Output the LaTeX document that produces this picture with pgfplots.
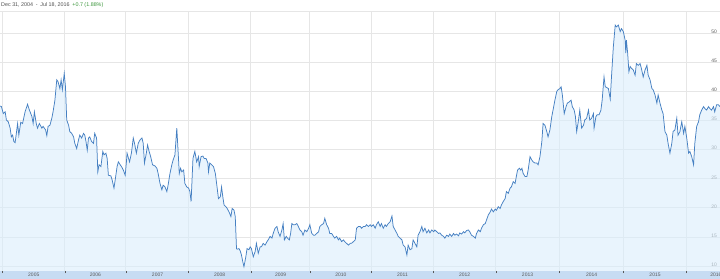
\documentclass[border=0pt]{standalone}
\usepackage{fontspec}
\setmainfont{Liberation Sans}
\usepackage{pgfplots}
\usepackage{pgfplotstable}
\pgfplotsset{compat=1.18}
\definecolor{lineblue}{RGB}{70,128,194}
\definecolor{fillblue}{RGB}{218,237,252}
\definecolor{gridgray}{RGB}{230,230,230}
\definecolor{bandblue}{RGB}{199,220,243}
\definecolor{hdrgray}{RGB}{80,80,80}
\definecolor{hdrgreen}{RGB}{60,150,60}
\definecolor{lblgray}{RGB}{90,90,90}

\pgfplotstableread{
x y
2004.96 37.5
2004.98 37.4
2005.01 36.2
2005.04 36.5
2005.06 35.1
2005.09 34.8
2005.12 33.7
2005.14 32.2
2005.16 32.5
2005.18 31.4
2005.20 31.2
2005.22 32.8
2005.24 34.5
2005.26 32.5
2005.29 34.7
2005.32 34.5
2005.36 36.5
2005.40 37.8
2005.43 36.8
2005.47 35.7
2005.49 34.5
2005.51 36.5
2005.54 34.5
2005.56 33.7
2005.59 34.5
2005.63 33.7
2005.65 34.0
2005.69 33.4
2005.71 32.4
2005.73 34.0
2005.76 34.2
2005.79 35.4
2005.81 36.5
2005.84 38.5
2005.87 42.0
2005.89 41.7
2005.92 40.5
2005.94 42.0
2005.96 40.3
2005.99 43.1
2006.01 40.8
2006.03 35.1
2006.06 34.2
2006.08 33.1
2006.11 32.8
2006.14 32.2
2006.16 31.1
2006.19 30.2
2006.22 31.7
2006.24 32.5
2006.27 32.0
2006.30 32.8
2006.32 32.5
2006.34 31.4
2006.36 29.9
2006.38 32.0
2006.40 32.2
2006.43 31.4
2006.46 31.1
2006.48 32.8
2006.51 32.0
2006.53 26.2
2006.55 27.4
2006.58 27.1
2006.61 29.7
2006.63 29.1
2006.66 29.4
2006.68 28.5
2006.70 25.6
2006.74 25.5
2006.76 24.8
2006.79 23.4
2006.82 25.6
2006.84 27.1
2006.86 27.9
2006.89 27.4
2006.91 27.1
2006.94 26.5
2006.97 25.6
2006.99 27.9
2007.00 29.4
2007.04 27.9
2007.07 29.4
2007.10 32.0
2007.12 31.1
2007.15 29.4
2007.18 31.1
2007.21 31.7
2007.24 32.0
2007.26 31.1
2007.28 27.7
2007.31 29.4
2007.33 30.8
2007.35 29.9
2007.38 28.8
2007.41 27.4
2007.45 27.2
2007.48 26.8
2007.50 25.9
2007.53 24.2
2007.56 23.1
2007.58 23.9
2007.61 23.6
2007.64 22.8
2007.66 23.9
2007.69 25.9
2007.72 27.4
2007.74 28.2
2007.77 29.1
2007.80 33.7
2007.82 29.9
2007.84 25.9
2007.86 26.8
2007.88 26.2
2007.91 26.5
2007.93 24.2
2007.96 23.6
2007.99 23.4
2008.01 22.8
2008.03 21.1
2008.06 28.5
2008.09 29.7
2008.12 27.9
2008.15 28.8
2008.16 27.1
2008.19 28.8
2008.22 28.9
2008.24 28.5
2008.27 28.5
2008.30 27.7
2008.31 26.2
2008.33 27.7
2008.36 27.4
2008.39 27.1
2008.42 25.9
2008.44 24.2
2008.47 21.6
2008.50 21.9
2008.52 23.6
2008.54 21.9
2008.56 20.5
2008.59 20.2
2008.61 19.9
2008.64 19.3
2008.67 18.5
2008.69 19.9
2008.72 19.6
2008.74 18.5
2008.76 13.0
2008.77 12.9
2008.80 13.0
2008.82 12.6
2008.84 11.9
2008.86 10.8
2008.88 9.9
2008.91 11.6
2008.93 13.0
2008.96 12.8
2008.98 13.3
2009.00 13.0
2009.03 11.6
2009.06 12.5
2009.08 13.9
2009.11 12.2
2009.14 13.3
2009.16 13.3
2009.19 13.9
2009.22 13.6
2009.25 14.2
2009.27 14.5
2009.30 15.1
2009.33 14.8
2009.35 15.6
2009.38 16.5
2009.41 16.8
2009.43 15.9
2009.46 15.1
2009.49 16.2
2009.51 17.3
2009.53 14.5
2009.56 15.1
2009.58 14.8
2009.61 14.5
2009.63 15.6
2009.65 17.3
2009.67 17.1
2009.70 17.1
2009.73 17.3
2009.75 16.9
2009.78 16.2
2009.81 15.9
2009.83 15.3
2009.86 16.2
2009.89 15.9
2009.92 16.5
2009.94 17.1
2009.97 15.6
2010.00 15.3
2010.02 15.3
2010.05 15.6
2010.08 15.9
2010.10 16.8
2010.13 17.1
2010.16 17.3
2010.18 18.2
2010.21 17.1
2010.24 16.5
2010.26 15.6
2010.29 15.6
2010.32 15.1
2010.34 14.8
2010.37 15.1
2010.40 14.5
2010.42 14.8
2010.45 14.2
2010.48 14.5
2010.50 14.2
2010.53 13.9
2010.56 13.6
2010.59 13.9
2010.61 13.9
2010.64 14.2
2010.67 14.5
2010.69 16.5
2010.72 16.8
2010.75 16.8
2010.77 16.5
2010.80 16.8
2010.83 16.8
2010.85 17.1
2010.88 16.8
2010.91 17.1
2010.93 16.8
2010.96 17.1
2010.99 16.5
2011.01 17.1
2011.04 17.6
2011.07 16.8
2011.09 17.3
2011.12 16.5
2011.15 17.1
2011.17 16.8
2011.20 17.3
2011.23 17.6
2011.26 18.6
2011.28 16.8
2011.31 16.2
2011.34 15.6
2011.36 15.1
2011.39 14.8
2011.42 14.5
2011.44 13.6
2011.47 13.3
2011.50 11.9
2011.52 13.6
2011.55 12.8
2011.58 13.0
2011.60 14.5
2011.63 13.9
2011.66 13.3
2011.68 15.3
2011.71 15.9
2011.74 16.8
2011.76 15.9
2011.79 16.5
2011.82 15.7
2011.85 16.2
2011.87 15.7
2011.90 16.2
2011.93 15.9
2011.95 16.2
2011.98 15.9
2012.01 15.6
2012.03 15.7
2012.06 15.3
2012.09 15.1
2012.11 14.8
2012.14 15.3
2012.17 15.1
2012.19 15.5
2012.22 15.1
2012.25 15.6
2012.27 15.3
2012.30 15.5
2012.33 15.2
2012.35 15.7
2012.38 15.5
2012.41 15.9
2012.43 15.7
2012.46 16.1
2012.49 16.2
2012.51 15.9
2012.54 15.3
2012.57 15.1
2012.60 14.8
2012.62 15.6
2012.65 16.2
2012.68 15.9
2012.70 16.5
2012.73 17.1
2012.76 17.3
2012.78 17.9
2012.81 18.8
2012.84 19.3
2012.86 19.8
2012.89 19.3
2012.92 19.8
2012.94 19.6
2012.97 20.2
2013.00 19.9
2013.02 20.5
2013.05 21.1
2013.08 21.6
2013.10 22.8
2013.13 22.5
2013.16 23.4
2013.18 23.6
2013.21 24.5
2013.24 24.2
2013.26 25.4
2013.28 26.5
2013.31 26.8
2013.33 26.5
2013.35 26.8
2013.37 25.9
2013.40 25.4
2013.43 25.4
2013.45 26.5
2013.48 28.8
2013.51 28.2
2013.53 27.9
2013.56 27.7
2013.59 27.7
2013.61 27.4
2013.64 28.8
2013.67 31.4
2013.69 34.5
2013.72 34.2
2013.75 33.1
2013.77 32.2
2013.80 33.4
2013.83 35.7
2013.85 36.8
2013.88 38.5
2013.91 40.0
2013.93 40.3
2013.96 40.5
2013.98 40.8
2014.00 39.4
2014.03 36.2
2014.06 37.4
2014.08 38.0
2014.11 38.2
2014.14 38.5
2014.16 37.4
2014.19 36.8
2014.21 35.7
2014.23 33.1
2014.26 35.1
2014.28 36.8
2014.31 33.7
2014.34 34.2
2014.36 35.1
2014.39 35.4
2014.42 36.8
2014.44 35.1
2014.47 35.4
2014.50 36.2
2014.51 33.7
2014.54 35.7
2014.56 36.0
2014.59 36.0
2014.62 36.8
2014.64 38.5
2014.67 42.5
2014.69 40.8
2014.71 40.7
2014.74 40.5
2014.77 38.7
2014.79 42.5
2014.82 47.7
2014.85 51.4
2014.87 51.1
2014.90 51.4
2014.93 50.3
2014.95 50.8
2014.98 50.3
2015.01 48.8
2015.02 46.6
2015.03 48.8
2015.05 46.6
2015.07 43.4
2015.09 44.3
2015.11 44.0
2015.14 43.7
2015.17 42.8
2015.19 44.8
2015.22 44.5
2015.25 44.8
2015.27 44.0
2015.30 42.5
2015.33 43.7
2015.36 44.5
2015.38 42.8
2015.41 42.0
2015.44 40.5
2015.46 40.3
2015.49 39.4
2015.52 38.0
2015.54 39.4
2015.57 38.0
2015.60 36.8
2015.62 36.2
2015.65 33.1
2015.68 32.5
2015.70 31.1
2015.73 29.4
2015.76 31.1
2015.78 33.1
2015.81 33.4
2015.84 35.4
2015.86 32.5
2015.89 33.1
2015.92 34.8
2015.95 32.8
2015.97 34.0
2016.00 32.0
2016.03 29.4
2016.05 29.7
2016.08 28.8
2016.11 27.4
2016.13 31.1
2016.16 34.0
2016.19 34.8
2016.21 36.0
2016.24 36.8
2016.27 37.4
2016.29 37.1
2016.32 36.8
2016.35 37.4
2016.37 37.1
2016.40 36.8
2016.43 37.4
2016.45 36.5
2016.48 37.7
2016.51 37.7
2016.535 37.4
}\pricedata

\begin{document}
\begin{tikzpicture}
\path[use as bounding box] (0,0) rectangle (720bp,279bp);
\fill[bandblue] (0,0) rectangle (720bp,8bp);
\draw[gridgray, line width=0.8bp] (0,268bp) -- (720bp,268bp);
\node[anchor=west, inner sep=0pt, font=\fontsize{5.4}{6}\selectfont] at (1bp,273.5bp)
  {\textcolor{hdrgray}{Dec 31, 2004\enspace-\enspace Jul 18, 2016}\enspace\textcolor{hdrgreen}{+0.7 (1.88\%)}};
\begin{axis}[
  at={(0,8bp)}, anchor=south west,
  scale only axis, width=720bp, height=260bp,
  xmin=2004.957, xmax=2016.535, ymin=9.15, ymax=53.83,
  axis line style={draw=none},
  /pgf/number format/assume math mode=true,
  xtick={2005.5,2006.49,2007.49,2008.49,2009.47,2010.44,2011.43,2012.43,2013.44,2014.47,2015.49,2016.47},
  xticklabels={2005,2006,2007,2008,2009,2010,2011,2012,2013,2014,2015,2016},
  xmajorgrids=false,
  xtick pos=bottom,
  major tick length=0pt,
  xticklabel style={anchor=center, inner sep=0pt, yshift=-4bp, font=\fontsize{5}{6}\selectfont, text=lblgray},
  extra x ticks={2005.00,2006.00,2006.98,2007.99,2008.99,2009.94,2010.93,2011.92,2012.93,2013.95,2014.98,2016.00},
  extra x tick labels={},
  extra x tick style={xmajorgrids=true, major tick length=2bp, tick align=outside, tick style={color=lblgray, line width=0.5bp}},
  ytick={10,15,20,25,30,35,40,45,50},
  yticklabel pos=right,
  ymajorgrids=true,
  grid style={color=gridgray, line width=0.8bp},
  yticklabel style={anchor=south east, inner sep=0pt, xshift=-3bp, yshift=-0.5bp, font=\fontsize{5}{6}\selectfont, text=lblgray},
  clip mode=individual,
]
\addplot[draw=none, fill=fillblue, fill opacity=0.6] table {\pricedata} \closedcycle;
\addplot[color=lineblue, line width=0.75bp, mark=none] table {\pricedata};
\end{axis}
\end{tikzpicture}
\end{document}
